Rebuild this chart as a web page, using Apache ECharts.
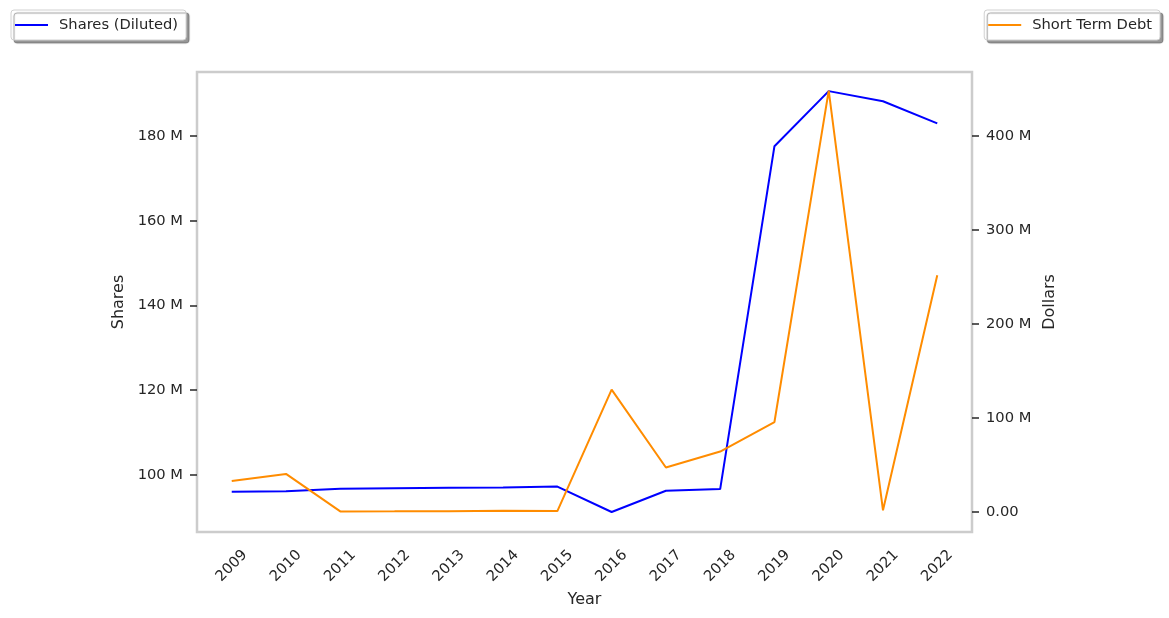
<!DOCTYPE html>
<html>
<head>
<meta charset="utf-8">
<script src="https://cdn.jsdelivr.net/npm/echarts@6/dist/echarts.min.js"></script>
<style>
html,body{margin:0;padding:0;background:#fff;}
#chart{width:1169px;height:618px;}
</style>
</head>
<body>
<div id="chart"></div>
<script>
// Data (millions)
const years = [2009, 2010, 2011, 2012, 2013, 2014, 2015, 2016, 2017, 2018, 2019, 2020, 2021, 2022];
const sharesDiluted = [96.0, 96.1, 96.7, 96.8, 96.9, 97.0, 97.2, 91.2, 96.2, 96.6, 177.6, 190.6, 188.2, 183.0];
const shortTermDebt = [32.7, 40.2, 0.3, 0.4, 0.6, 0.9, 0.7, 129.9, 47.0, 64.0, 95.4, 448.0, 1.5, 251.5];
const leftTicks = [100, 120, 140, 160, 180];
const rightTicks = [0, 100, 200, 300, 400];

const FONT = 'DejaVu Sans';
const TXT = '#262626';
const TICK_FS = 14.7;
const NAME_FS = 16;

const chart = echarts.init(document.getElementById('chart'), null, {renderer: 'canvas'});

const legendCommon = {
  orient: 'horizontal',
  top: 10,
  padding: [6, 8, 6, 4],
  itemWidth: 33,
  itemHeight: 2,
  icon: 'rect',
  backgroundColor: '#fff',
  borderColor: '#d0d0d0',
  borderWidth: 1,
  borderRadius: 3,
  shadowColor: 'rgba(0,0,0,0.4)',
  shadowBlur: 1,
  shadowOffsetX: 3,
  shadowOffsetY: 3,
  textStyle: {fontFamily: FONT, fontSize: TICK_FS, color: TXT, lineHeight: 18, padding: [0, 0, 0, 6]}
};

chart.setOption({
  animation: false,
  backgroundColor: '#fff',
  textStyle: {fontFamily: FONT},
  legend: [
    Object.assign({}, legendCommon, {left: 11, data: ['Shares (Diluted)']}),
    Object.assign({}, legendCommon, {right: 9, data: ['Short Term Debt']})
  ],
  grid: {
    left: 197, right: 197, top: 72, bottom: 86,
    show: true, borderColor: '#cccccc', borderWidth: 2.5, backgroundColor: 'transparent'
  },
  xAxis: {
    type: 'value',
    min: 2008.36,
    max: 2022.64,
    name: 'Year',
    nameLocation: 'middle',
    nameGap: 58,
    nameTextStyle: {fontFamily: FONT, fontSize: NAME_FS, color: TXT},
    axisLine: {show: false},
    axisTick: {show: false},
    splitLine: {show: false},
    axisLabel: {
      customValues: years,
      rotate: 45,
      align: 'center',
      verticalAlign: 'middle',
      margin: 34,
      fontFamily: FONT, fontSize: TICK_FS, color: TXT,
      formatter: v => String(Math.round(v))
    }
  },
  yAxis: [
    {
      type: 'value',
      position: 'left',
      min: 86.47,
      max: 195.12,
      name: 'Shares',
      nameLocation: 'middle',
      nameGap: 68,
      nameRotate: 90,
      nameTextStyle: {fontFamily: FONT, fontSize: NAME_FS, color: TXT},
      axisLine: {show: false},
      splitLine: {show: false},
      axisTick: {show: true, customValues: leftTicks, length: 7, inside: false, lineStyle: {color: TXT, width: 1.5}},
      axisLabel: {
        customValues: leftTicks,
        margin: 14,
        fontFamily: FONT, fontSize: TICK_FS, color: TXT,
        formatter: v => Math.round(v) + ' M'
      }
    },
    {
      type: 'value',
      position: 'right',
      min: -21.6,
      max: 467.8,
      name: 'Dollars',
      nameLocation: 'middle',
      nameGap: 66,
      nameRotate: 90,
      nameTextStyle: {fontFamily: FONT, fontSize: NAME_FS, color: TXT},
      axisLine: {show: false},
      splitLine: {show: false},
      axisTick: {show: true, customValues: rightTicks, length: 7, inside: false, lineStyle: {color: TXT, width: 1.5}},
      axisLabel: {
        customValues: rightTicks,
        margin: 14,
        fontFamily: FONT, fontSize: TICK_FS, color: TXT,
        formatter: v => (Math.round(v) === 0 ? '0.00' : Math.round(v) + ' M')
      }
    }
  ],
  series: [
    {
      name: 'Shares (Diluted)',
      type: 'line',
      yAxisIndex: 0,
      symbol: 'none',
      lineStyle: {color: '#0000ff', width: 2},
      itemStyle: {color: '#0000ff'},
      data: years.map((y, i) => [y, sharesDiluted[i]])
    },
    {
      name: 'Short Term Debt',
      type: 'line',
      yAxisIndex: 1,
      symbol: 'none',
      lineStyle: {color: '#ff8c00', width: 2},
      itemStyle: {color: '#ff8c00'},
      data: years.map((y, i) => [y, shortTermDebt[i]])
    }
  ]
});
</script>
</body>
</html>
